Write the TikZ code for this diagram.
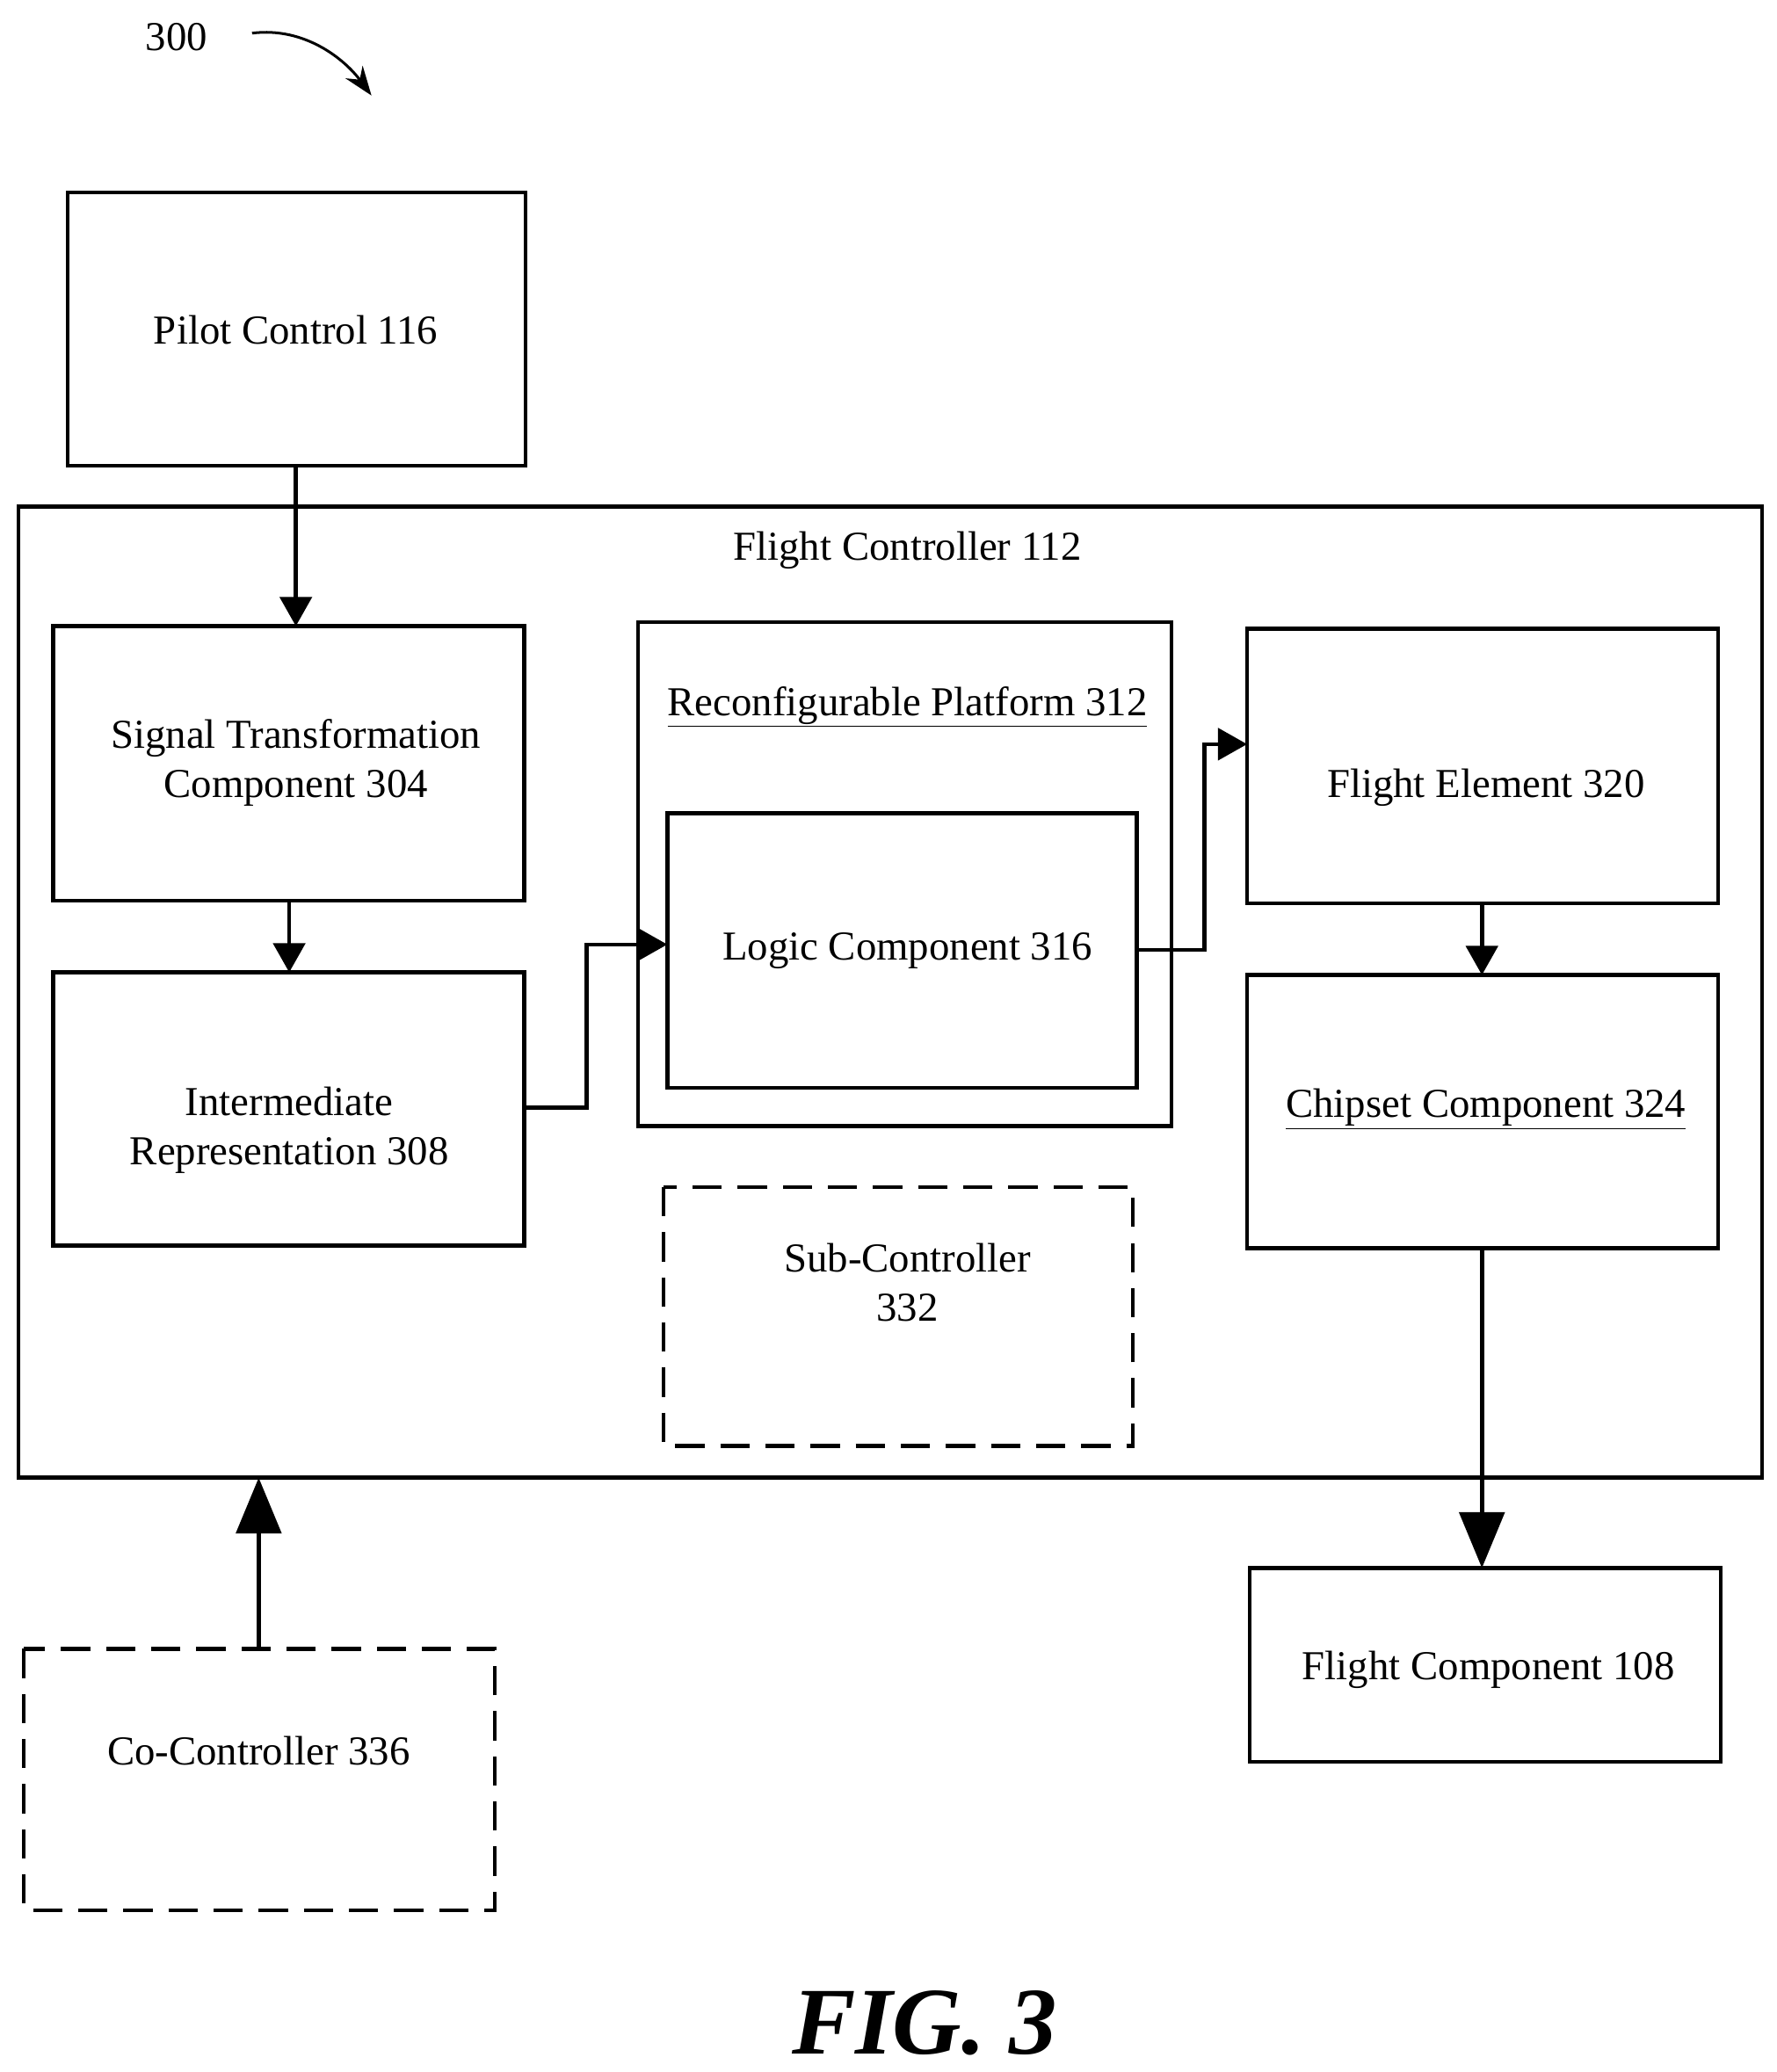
\documentclass[tikz,border=0pt]{standalone}
\usepackage{fontspec}
\setmainfont{Liberation Serif}
\usetikzlibrary{arrows.meta}
\begin{document}
\begin{tikzpicture}[x=1pt,y=-1pt,
  box/.style={draw,line width=3pt},
  dbox/.style={draw,line width=3pt,dash pattern=on 22pt off 12pt},
  lbl/.style={font=\fontsize{31}{37}\selectfont,align=center},
  arr/.style={line width=3pt,-{Triangle[length=22pt,width=24pt]}},
  big/.style={line width=3pt,-{Triangle[length=42pt,width=34pt]}}]
\useasboundingbox (0,0) rectangle (1339,1562);
\node[lbl] (n300) at (133,28) {300};
\coordinate (a1) at (190,25);
\coordinate (a2) at (280,72);
\draw[line width=2pt,-{Stealth[length=22pt,width=16pt]}] (a1) .. controls (230,20) and (260,45) .. (a2);
\draw[box] (51,145) rectangle (396,351); \node[lbl] (pc) at (223,249) {Pilot Control 116};
\coordinate (pcS) at (223,351);
\draw[box] (14,382) rectangle (1328,1114); \node[lbl] (fc) at (684,415) {Flight Controller 112};
\draw[box] (40,472) rectangle (395,679); \node[lbl] (st) at (223,575) {Signal Transformation\\Component 304};
\coordinate (stN) at (223,472); \coordinate (stS) at (218,679);
\draw[box] (40,733) rectangle (395,939); \node[lbl] (ir) at (218,852) {Intermediate\\Representation 308};
\coordinate (irN) at (218,733); \coordinate (irE) at (395,835);
\draw[box] (481,469) rectangle (883,849); \node[lbl] (rp) at (684,533) {\underline{Reconfigurable Platform 312}};
\draw[box] (503,613) rectangle (857,820); \node[lbl] (lc) at (684,717) {Logic Component 316};
\coordinate (lcW) at (503,712); \coordinate (lcE) at (857,716);
\draw[box] (940,474) rectangle (1295,681); \node[lbl] (fe) at (1120,594) {Flight Element 320};
\coordinate (feW) at (940,561); \coordinate (feS) at (1117,681);
\draw[box] (940,735) rectangle (1295,941); \node[lbl] (cc) at (1120,836) {\underline{Chipset Component 324}};
\coordinate (ccN) at (1117,735); \coordinate (ccS) at (1117,941);
\draw[dbox] (500,895) rectangle (854,1090); \node[lbl] (sc) at (684,967) {Sub-Controller\\332};
\draw[box] (942,1182) rectangle (1297,1328); \node[lbl] (fcp) at (1122,1259) {Flight Component 108};
\coordinate (fcpN) at (1117,1182);
\draw[dbox] (18,1243) rectangle (373,1440); \node[lbl] (co) at (195,1320) {Co-Controller 336};
\coordinate (coN) at (195,1243); \coordinate (fcB) at (195,1114);
\draw[arr] (pcS) -- (stN);
\draw[arr] (stS) -- (irN);
\draw[arr] (irE) -- (442,835) -- (442,712) -- (lcW);
\draw[arr] (lcE) -- (908,716) -- (908,561) -- (feW);
\draw[arr] (feS) -- (ccN);
\draw[big] (ccS) -- (fcpN);
\draw[big] (coN) -- (fcB);
\node[font=\fontsize{72}{80}\selectfont\bfseries\itshape] (fig) at (697,1525) {FIG. 3};
\end{tikzpicture}
\end{document}
